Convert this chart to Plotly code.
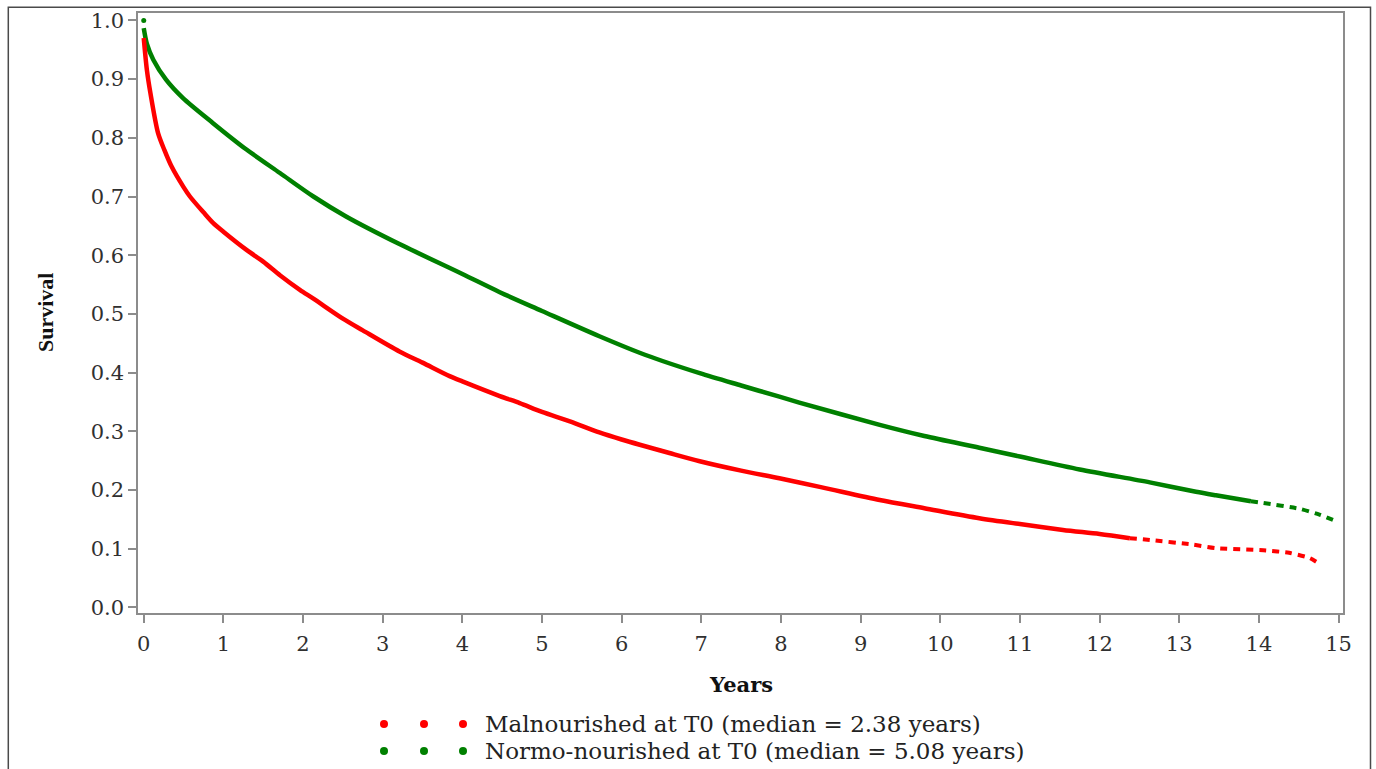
import plotly.graph_objects as go

# ---- data ----
mal_t = [0.00, 0.04, 0.084, 0.18, 0.26, 0.35, 0.50, 0.58, 0.75, 0.87, 1.00, 1.29, 1.50, 1.71,
         1.96, 2.13, 2.50, 2.75, 3.21, 3.50, 3.84, 4.00, 4.47, 4.72, 5.00, 5.35, 5.72, 6.00,
         6.60, 6.98, 7.50, 7.98, 8.50, 9.24, 9.80, 10.49, 11.00, 11.54, 12.00, 12.38, 12.63,
         13.17, 13.46, 14.09, 14.38, 14.64, 14.74]
mal_s = [0.970, 0.915, 0.876, 0.808, 0.779, 0.751, 0.716, 0.700, 0.673, 0.655, 0.640, 0.609,
         0.589, 0.566, 0.541, 0.526, 0.492, 0.472, 0.436, 0.417, 0.394, 0.385, 0.360, 0.348,
         0.333, 0.317, 0.298, 0.286, 0.263, 0.249, 0.233, 0.220, 0.205, 0.183, 0.169, 0.152,
         0.142, 0.132, 0.125, 0.118, 0.115, 0.107, 0.101, 0.097, 0.093, 0.084, 0.076]

nor_t = [0.00, 0.04, 0.12, 0.28, 0.49, 0.87, 1.29, 1.71, 2.13, 2.54, 3.21, 4.00, 4.47,
         5.00, 5.72, 6.30, 6.98, 7.50, 7.98, 8.23, 9.24, 9.80, 10.49, 11.00, 11.75, 12.63,
         13.21, 13.46, 13.90, 14.05, 14.51, 14.76, 14.93]
nor_s = [0.987, 0.960, 0.933, 0.899, 0.868, 0.825, 0.780, 0.740, 0.700, 0.666, 0.619,
         0.568, 0.537, 0.505, 0.462, 0.430, 0.399, 0.378, 0.359, 0.349, 0.311, 0.292, 0.272,
         0.257, 0.235, 0.213, 0.197, 0.191, 0.181, 0.178, 0.168, 0.158, 0.149]

start_t = [0.0]
start_s = [1.0]

mal_tail_from = 12.38   # where the red curve becomes sparse
nor_tail_from = 13.9    # where the green curve becomes sparse

x_ticks = list(range(0, 16))
y_ticks = [round(i * 0.1, 1) for i in range(0, 11)]

legend_labels = ["Malnourished at T0 (median = 2.38 years)",
                 "Normo-nourished at T0 (median = 5.08 years)"]

RED = "#ff0000"
GREEN = "#008000"

# ---- figure ----
W, H = 1376, 769
L, R, T, B = 138, 33, 13, 156
pw, ph = W - L - R, H - T - B


def px_x(p):
    return (p - L) / pw


def px_y(p):
    return (H - B - p) / ph


def split(ts, ss, cut):
    n = len([t for t in ts if t <= cut])
    return ts[:n], ss[:n], ts[n - 1:], ss[n - 1:]


fig = go.Figure()
for ts, ss, cut, col in [(nor_t, nor_s, nor_tail_from, GREEN), (mal_t, mal_s, mal_tail_from, RED)]:
    ht, hs, tt, tsv = split(ts, ss, cut)
    fig.add_trace(go.Scatter(x=ht, y=hs, mode="lines",
                             line=dict(color=col, width=4.5, shape="spline", smoothing=0.8),
                             showlegend=False, hoverinfo="skip"))
    fig.add_trace(go.Scatter(x=tt, y=tsv, mode="lines",
                             line=dict(color=col, width=4, dash="7px,6px", shape="spline",
                                       smoothing=0.6),
                             showlegend=False, hoverinfo="skip"))

fig.add_trace(go.Scatter(x=start_t, y=start_s, mode="markers",
                         marker=dict(color=GREEN, size=5), showlegend=False, hoverinfo="skip"))

axis_common = dict(showgrid=False, zeroline=False, showline=True, linecolor="#8c8c8c",
                   linewidth=1.5, mirror=True, ticks="outside", ticklen=8, tickwidth=1.5,
                   tickcolor="#8c8c8c",
                   tickfont=dict(family="DejaVu Serif", size=21, color="#303030"))

fig.update_xaxes(range=[-0.072, 15.056], tickmode="array", tickvals=x_ticks,
                 ticktext=[str(v) for v in x_ticks], ticklabelstandoff=3, **axis_common)
fig.update_yaxes(range=[-0.0095, 1.0126], tickmode="array", tickvals=y_ticks,
                 ticktext=[f"{v:.1f}" for v in y_ticks], **axis_common)

shapes = [dict(type="rect", xref="paper", yref="paper",
               x0=px_x(8.3), x1=px_x(1370.5), y0=px_y(7.3), y1=px_y(790),
               line=dict(color="#4a4a4a", width=1.5), fillcolor="rgba(0,0,0,0)", layer="below")]

annotations = [
    dict(text="<b>Years</b>", xref="paper", yref="paper", x=0.5, y=px_y(684),
         xanchor="center", yanchor="middle", showarrow=False,
         font=dict(family="DejaVu Serif", size=21, color="#111")),
    dict(text="<b>Survival</b>", xref="paper", yref="paper", x=px_x(45), y=0.5,
         xanchor="center", yanchor="middle", showarrow=False, textangle=-90,
         font=dict(family="Liberation Serif", size=22, color="#111")),
]

for label, col, ypx in [(legend_labels[0], RED, 724), (legend_labels[1], GREEN, 751)]:
    for dx in (384, 424, 463):
        shapes.append(dict(type="circle", xref="paper", yref="paper",
                           xsizemode="pixel", ysizemode="pixel",
                           xanchor=px_x(dx), yanchor=px_y(ypx),
                           x0=-4, x1=4, y0=-4, y1=4,
                           line=dict(width=0), fillcolor=col))
    annotations.append(dict(text=label, xref="paper", yref="paper", x=px_x(483), y=px_y(ypx),
                            xanchor="left", yanchor="middle", showarrow=False,
                            font=dict(family="DejaVu Serif", size=23, color="#222")))

fig.update_layout(width=W, height=H, margin=dict(l=L, r=R, t=T, b=B, autoexpand=False),
                  paper_bgcolor="white", plot_bgcolor="white",
                  shapes=shapes, annotations=annotations, showlegend=False)

fig.write_html("out.html", config={"displayModeBar": False})

# remove the browser's default body margin so the figure sits at the page origin
with open("out.html", "r", encoding="utf-8") as f:
    html = f.read()
html = html.replace("<body>", '<body style="margin:0;padding:0;overflow:hidden">', 1)
with open("out.html", "w", encoding="utf-8") as f:
    f.write(html)
